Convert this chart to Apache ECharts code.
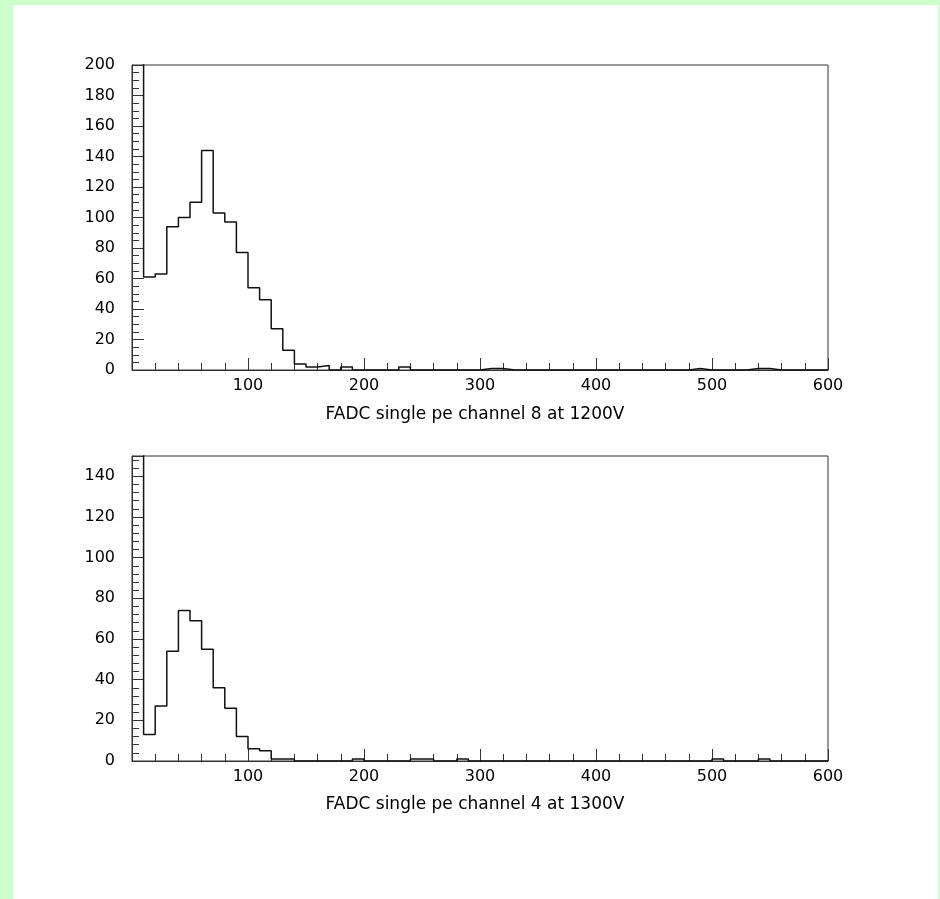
<!DOCTYPE html>
<html>
<head>
<meta charset="utf-8">
<script src="https://cdn.jsdelivr.net/npm/echarts@6/dist/echarts.min.js"></script>
<style>
html,body{margin:0;padding:0;background:#ccffcc;width:940px;height:899px;overflow:hidden;}
#paper{position:absolute;left:13px;top:5px;width:925px;height:900px;background:#fff;}
#chart{position:absolute;left:0;top:0;width:940px;height:899px;}
</style>
</head>
<body>
<div id="paper"></div>
<div id="chart"></div>
<script>
// Histogram bins: 60 bins of width 10 from 0 to 600
const binWidth = 10;
const xTickLabels = ['100', '200', '300', '400', '500', '600'];
const titleTop = 'FADC single pe channel 8 at 1200V';
const titleBottom = 'FADC single pe channel 4 at 1300V';

// channel 8 at 1200V (first bin overflows the 200 axis maximum)
const countsTop = [
  350, 61, 63, 94, 100, 110, 144, 103, 97, 77,
  54, 46, 27, 13, 4, 2, 3, 0, 2, 0,
  0, 0, 0, 2, 0, 0, 0, 0, 0, 0,
  1, 1, 0, 0, 0, 0, 0, 0, 0, 0,
  0, 0, 0, 0, 0, 0, 0, 0, 1, 0,
  0, 0, 0, 1, 1, 0, 0, 0, 0, 0
];
// channel 4 at 1300V (first bin overflows the 150 axis maximum)
const countsBottom = [
  250, 13, 27, 54, 74, 69, 55, 36, 26, 12,
  6, 5, 1, 1, 0, 0, 0, 0, 0, 1,
  0, 0, 0, 0, 1, 1, 0, 0, 1, 0,
  0, 0, 0, 0, 0, 0, 0, 0, 0, 0,
  0, 0, 0, 0, 0, 0, 0, 0, 0, 0,
  1, 0, 0, 0, 1, 0, 0, 0, 0, 0
];

function stepData(counts) {
  const d = counts.map((c, i) => [i * binWidth, c]);
  d.push([counts.length * binWidth, counts[counts.length - 1]]);
  return d;
}

const FONT = 'DejaVu Sans';
const AX = '#333';

function xAxisDef(gi) {
  return {
    type: 'value', gridIndex: gi, min: 0, max: 600, interval: 100,
    axisLine: {show: true, onZero: false, lineStyle: {color: AX, width: 1}},
    axisTick: {show: true, inside: true, length: 12, lineStyle: {color: AX}},
    minorTick: {show: true, splitNumber: 5, length: 7, lineStyle: {color: AX}},
    splitLine: {show: false},
    minorSplitLine: {show: false},
    axisLabel: {
      margin: 8, color: '#000', fontFamily: FONT, fontSize: 16,
      formatter: v => { const s = String(v); return xTickLabels.indexOf(s) >= 0 ? s : ''; }
    }
  };
}
function yAxisDef(gi, max, minorSplit) {
  return {
    type: 'value', gridIndex: gi, min: 0, max: max, interval: 20,
    axisLine: {show: true, onZero: false, lineStyle: {color: AX, width: 1}},
    axisTick: {show: true, inside: true, length: 12, lineStyle: {color: AX}},
    minorTick: {show: true, splitNumber: minorSplit, length: 7, lineStyle: {color: AX}},
    splitLine: {show: false},
    minorSplitLine: {show: false},
    axisLabel: {
      margin: 17, color: '#000', fontFamily: FONT, fontSize: 16,
      showMaxLabel: max % 20 === 0
    }
  };
}

const chart = echarts.init(document.getElementById('chart'), null, {renderer: 'canvas'});
chart.setOption({
  animation: false,
  backgroundColor: 'transparent',
  grid: [
    {left: 132, top: 65, width: 696, height: 305, show: true, borderColor: AX, borderWidth: 1, backgroundColor: 'transparent'},
    {left: 132, top: 456, width: 696, height: 305, show: true, borderColor: AX, borderWidth: 1, backgroundColor: 'transparent'}
  ],
  title: [
    {text: titleTop, left: 470, top: 401, textAlign: 'center',
     textStyle: {fontFamily: FONT, fontSize: 17, fontWeight: 'normal', color: '#000'}},
    {text: titleBottom, left: 470, top: 791, textAlign: 'center',
     textStyle: {fontFamily: FONT, fontSize: 17, fontWeight: 'normal', color: '#000'}}
  ],
  xAxis: [xAxisDef(0), xAxisDef(1)],
  yAxis: [yAxisDef(0, 200, 4), yAxisDef(1, 150, 5)],
  series: [
    {type: 'line', xAxisIndex: 0, yAxisIndex: 0, step: 'end', symbol: 'none', clip: true,
     data: stepData(countsTop), lineStyle: {color: '#111', width: 1.5}},
    {type: 'line', xAxisIndex: 1, yAxisIndex: 1, step: 'end', symbol: 'none', clip: true,
     data: stepData(countsBottom), lineStyle: {color: '#111', width: 1.5}}
  ]
});
</script>
</body>
</html>
